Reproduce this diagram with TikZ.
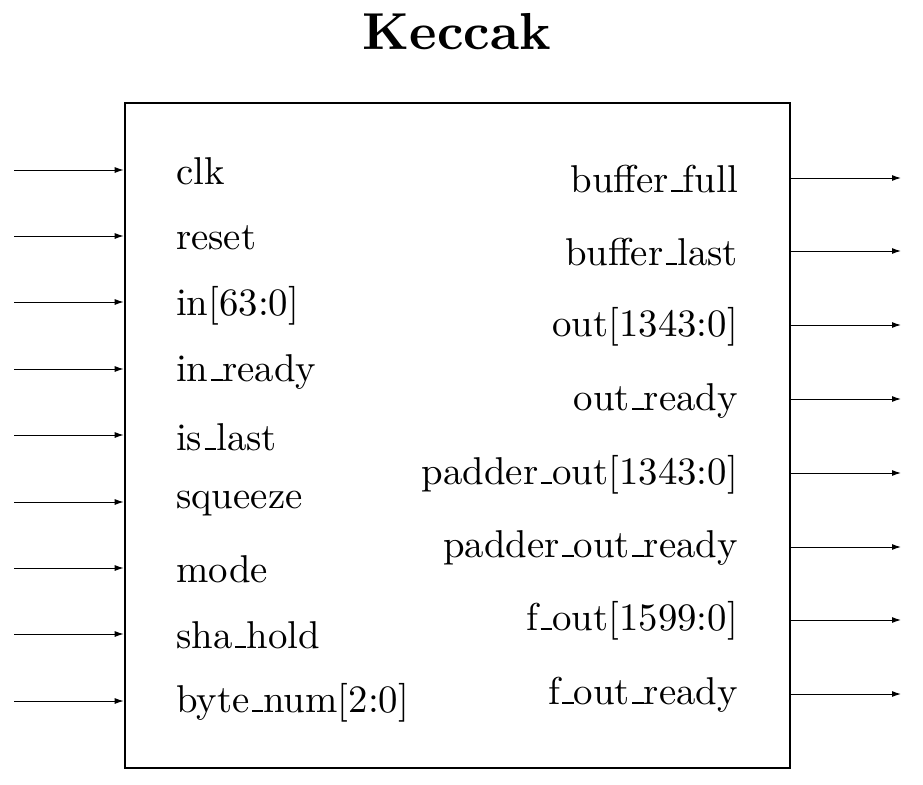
\documentclass[tikz,border=0pt]{standalone}
\usetikzlibrary{arrows.meta}
\newcommand\usc{\leavevmode\kern.06em\vbox{\hrule width.3em}}
\newcommand\biglbl[1]{\scalebox{3.88}{\fontsize{10}{12}\selectfont #1}}
\begin{document}
\begin{tikzpicture}[x=1pt,y=-1pt,
  sig/.style={-{Latex[length=9pt,width=6pt]}, line width=1pt},
  lbl/.style={inner sep=0pt},
  blk/.style={draw, line width=2.6pt, inner sep=0pt, minimum width=665pt, minimum height=665pt}]
\useasboundingbox (0,0) rectangle (923,784);
\node[blk] (box) at (457.5,435.5) {};
\node[inner sep=0pt, anchor=base] (title) at (457,50) {\scalebox{5.2}{\fontsize{10}{12}\selectfont\bfseries Keccak}};
% inputs
\foreach \n/\y/\b/\t in {a/170/184/clk, b/236/249/reset, c/302/315/{in[63:0]}, d/369/381/{in\usc ready}, e/435/450/{is\usc last}, f/502/508/squeeze, g/568/582/mode, h/634/648/{sha\usc hold}, k/701/712/{byte\usc num[2:0]}}{
  \coordinate (in\n) at (14,\y);
  \draw[sig] (in\n) -- (in\n -| box.west);
  \node[lbl, anchor=base west] (li\n) at (176,\b) {\biglbl{\t}};
}
% outputs
\foreach \n/\y/\b/\t in {a/178/192/{buffer\usc full}, b/251/265/{buffer\usc last}, c/325/336/{out[1343:0]}, d/399/410/{out\usc ready}, e/473/484/{padder\usc out[1343:0]}, f/547/557/{padder\usc out\usc ready}, g/620/630/{f\usc out[1599:0]}, h/694/704/{f\usc out\usc ready}}{
  \coordinate (out\n) at (901,\y);
  \draw[sig] (out\n -| box.east) -- (out\n);
  \node[lbl, anchor=base east] (lo\n) at (738,\b) {\biglbl{\t}};
}
\end{tikzpicture}
\end{document}
